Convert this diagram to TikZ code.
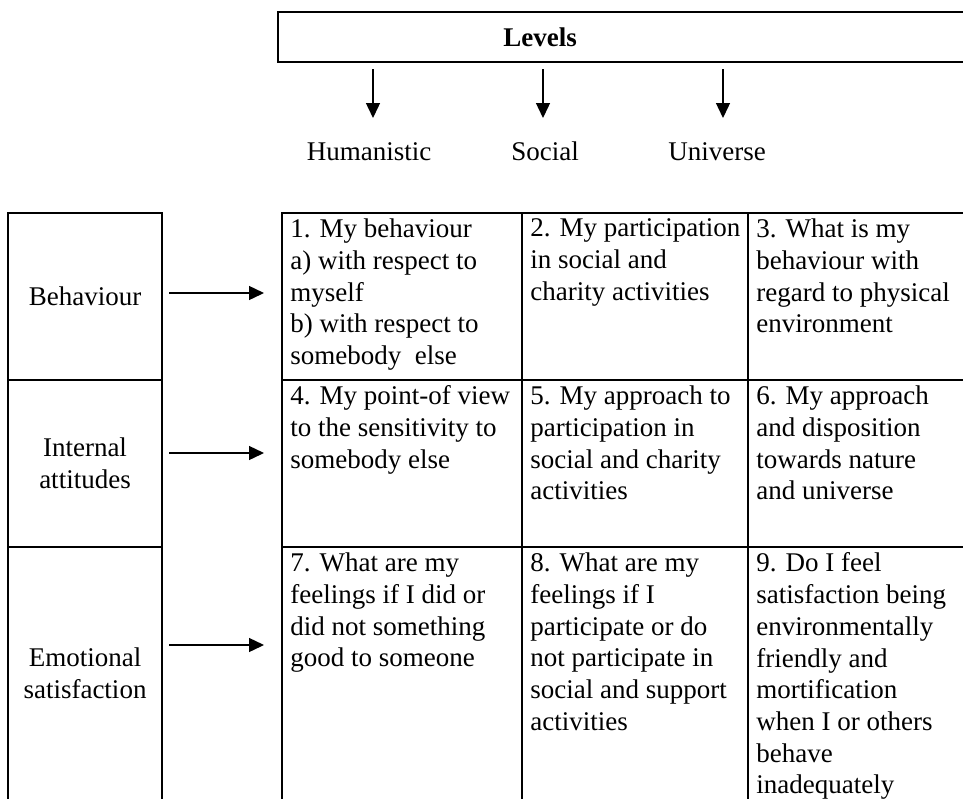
\documentclass[tikz,border=0pt]{standalone}
\usepackage{fontspec}
\setmainfont{Liberation Serif}
\usetikzlibrary{arrows.meta}

\begin{document}
\begin{tikzpicture}[x=0.5pt,y=-0.5pt,
  font=\fontsize{13.5}{15.85}\selectfont,
  box/.style={draw,line width=1pt,inner sep=0pt,align=center},
  celltext/.style={anchor=north west,align=left,inner xsep=4.5pt,inner ysep=3.25pt},
  level/.style={anchor=base},
  arr/.style={line width=0.7pt,-{Triangle[length=7.5pt,width=7pt]}}]
\useasboundingbox (0,0) rectangle (963,798);
\clip (0,0) rectangle (963,798);
\node[box,minimum width=366pt,minimum height=25pt] (levels) at (644,37) {};
\node (title) at (540,37) {\bfseries Levels};
\node[level] (hum) at (369,160) {Humanistic};
\node[level] (soc) at (545,160) {Social};
\node[level] (uni) at (717,160) {Universe};
\draw[arr] ([xshift=2pt,yshift=-3pt]levels.south -| hum) -- ++(0,49);
\draw[arr] ([xshift=-1pt,yshift=-3pt]levels.south -| soc) -- ++(0,49);
\draw[arr] ([xshift=3pt,yshift=-3pt]levels.south -| uni) -- ++(0,49);
\node[box,minimum width=77pt,minimum height=83.5pt] (beh) at (85,296.5) {Behaviour};
\node[box,minimum width=77pt,minimum height=83.5pt] (att) at (85,463.5) {Internal\\attitudes};
\node[box,minimum width=77pt,minimum height=126.5pt] (emo) at (85,673.5) {Emotional\\satisfaction};
\node[box,minimum width=120pt,minimum height=83.5pt] (c1) at (402,296.5) {};
\node[box,minimum width=113pt,minimum height=83.5pt] (c2) at (635,296.5) {};
\node[box,minimum width=131pt,minimum height=83.5pt] (c3) at (879,296.5) {};
\node[box,minimum width=120pt,minimum height=83.5pt] (c4) at (402,463.5) {};
\node[box,minimum width=113pt,minimum height=83.5pt] (c5) at (635,463.5) {};
\node[box,minimum width=131pt,minimum height=83.5pt] (c6) at (879,463.5) {};
\node[box,minimum width=120pt,minimum height=126.5pt] (c7) at (402,673.5) {};
\node[box,minimum width=113pt,minimum height=126.5pt] (c8) at (635,673.5) {};
\node[box,minimum width=131pt,minimum height=126.5pt] (c9) at (879,673.5) {};
\node[celltext] (t1) at (c1.north west) {1. My behaviour\\a) with respect to\\myself\\b) with respect to\\somebody~ else};
\node[celltext] (t2) at (c2.north west) {2. My participation\\in social and\\charity activities};
\node[celltext] (t3) at (c3.north west) {3. What is my\\behaviour with\\regard to physical\\environment};
\node[celltext] (t4) at (c4.north west) {4. My point-of view\\to the sensitivity to\\somebody else};
\node[celltext] (t5) at (c5.north west) {5. My approach to\\participation in\\social and charity\\activities};
\node[celltext] (t6) at (c6.north west) {6. My approach\\and disposition\\towards nature\\and universe};
\node[celltext] (t7) at (c7.north west) {7. What are my\\feelings if I did or\\did not something\\good to someone};
\node[celltext] (t8) at (c8.north west) {8. What are my\\feelings if I\\participate or do\\not participate in\\social and support\\activities};
\node[celltext] (t9) at (c9.north west) {9. Do I feel\\satisfaction being\\environmentally\\friendly and\\mortification\\when I or others\\behave\\inadequately};
\draw[arr] ([xshift=3pt,yshift=1.75pt]beh.east) -- ([xshift=-8.5pt,yshift=1.75pt]c1.west);
\draw[arr] ([xshift=3pt,yshift=5.25pt]att.east) -- ([xshift=-8.5pt,yshift=5.25pt]c4.west);
\draw[arr] ([xshift=3pt,yshift=14.25pt]emo.east) -- ([xshift=-8.5pt,yshift=14.25pt]c7.west);
\end{tikzpicture}
\end{document}
